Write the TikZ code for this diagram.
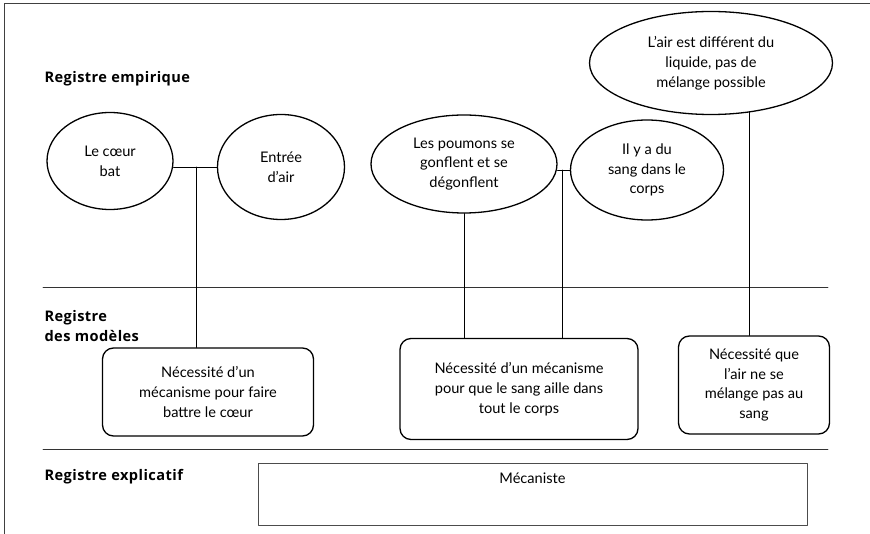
\documentclass[tikz,border=0pt]{standalone}
\usepackage{fontspec}
\setmainfont{Lato}
\newfontfamily\registrefont[LetterSpace=3]{Open Sans}
\usetikzlibrary{shapes.geometric}
\begin{document}
\begin{tikzpicture}[x=1pt,y=-1pt,line cap=round,line join=round,
	font=\fontsize{14.6}{19.8}\selectfont,
	idee/.style={ellipse,draw,line width=1.3pt,align=center,inner sep=0pt},
	modele/.style={draw,rounded corners=11pt,line width=1.3pt,align=center,inner sep=0pt},
	registre/.style={anchor=west,align=left,font=\fontsize{14.6}{19.5}\selectfont\registrefont\bfseries},
	lien/.style={line width=0.9pt},
	separ/.style={line width=0.7pt,color=black!80}]
				\useasboundingbox (0,0) rectangle (870,534);
				\draw[line width=0.8pt,color=black!75] (4,534) -- (4,3) -- (870,3);
				\foreach \y in {287,449}
				\draw[separ] (43,\y) -- (828,\y);
				\node[registre] (empirique) at (41,79) {Registre empirique};
				\node[registre] (modeles) at (41,326) {Registre\\des modèles};
				\node[registre] (explicatif) at (41,477) {Registre explicatif};
				\node[idee,minimum width=126pt,minimum height=97pt] (coeur) at (110,161) {Le cœur\\bat};
				\node[idee,minimum width=127pt,minimum height=105pt] (air) at (281,167) {Entrée\\d’air};
				\node[idee,minimum width=186pt,minimum height=98pt] (poumons) at (464,164) {Les poumons se\\gonflent et se\\dégonflent};
				\node[idee,minimum width=153pt,minimum height=100pt] (sang) at (647,170) {Il y a du\\sang dans le\\corps};
				\node[idee,minimum width=243pt,minimum height=103pt] (liquide) at (711,63) {L’air est différent du\\liquide, pas de\\mélange possible};
				\node[modele,minimum width=211pt,minimum height=88pt] (mecacoeur) at (208,392) {Nécessité d’un\\mécanisme pour faire\\battre le cœur};
				\node[modele,minimum width=238pt,minimum height=101pt] (mecasang) at (519,389) {Nécessité d’un mécanisme\\pour que le sang aille dans\\tout le corps};
				\node[modele,minimum width=151pt,minimum height=98pt] (melange) at (754,385) {Nécessité que\\l’air ne se\\mélange pas au\\sang};
				\node[draw,line width=0.6pt,color=black!70,minimum width=549pt,minimum height=62pt,inner sep=0pt] (mecaniste) at (532.5,494) {};
				\node[below=7pt] (mecatexte) at (mecaniste.north) {Mécaniste};
				\coordinate (j1) at (196,167);
				\coordinate (j2) at (562,170);
				\draw[lien] (air.west) -- (air.west -| coeur.east);
				\draw[lien] (j1) -- (j1 |- mecacoeur.north);
				\draw[lien] (sang.west) -- (sang.west -| poumons.east);
				\draw[lien] (j2) -- (j2 |- mecasang.north);
				\draw[lien] (poumons.south) -- (poumons.south |- mecasang.north);
				\draw[lien] (liquide.308) -- (liquide.308 |- melange.north);
			\end{tikzpicture}
\end{document}
